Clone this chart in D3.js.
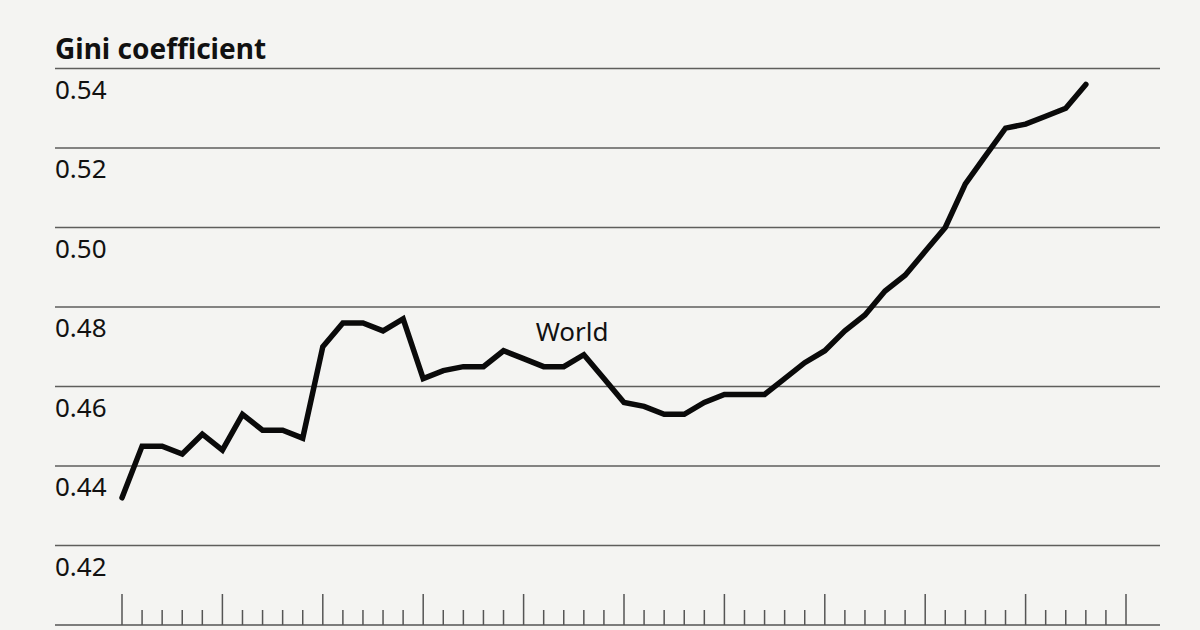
<!DOCTYPE html>
<html>
<head>
<meta charset="utf-8">
<script src="https://cdn.jsdelivr.net/npm/d3@7"></script>
<style>
    html, body { margin: 0; padding: 0; background: #f4f4f2; }
    svg { display: block; }
    .title { font-family: "Noto Sans", sans-serif; font-weight: 700; font-size: 28px; fill: #111; }
    .ylabel { font-family: "Noto Sans", sans-serif; font-size: 26px; fill: #111; }
    .annot { font-family: "Noto Sans", sans-serif; font-size: 26px; fill: #111; }
</style>
</head>
<body>
<svg id="graph"></svg>
<script>
// Gini coefficient, one value per year (index 0 = first year on the axis)
const years = d3.range( 0, 49 );
const gini = [
    0.432, 0.445, 0.445, 0.443, 0.448, 0.444, 0.453, 0.449, 0.449, 0.447,
    0.470, 0.476, 0.476, 0.474, 0.477, 0.462, 0.464, 0.465, 0.465, 0.469,
    0.467, 0.465, 0.465, 0.468, 0.462, 0.456, 0.455, 0.453, 0.453, 0.456,
    0.458, 0.458, 0.458, 0.462, 0.466, 0.469, 0.474, 0.478, 0.484, 0.488,
    0.494, 0.500, 0.511, 0.518, 0.525, 0.526, 0.528, 0.530, 0.536
];
const yTicks = [ 0.42, 0.44, 0.46, 0.48, 0.50, 0.52, 0.54 ];
const yTickLabels = [ "0.42", "0.44", "0.46", "0.48", "0.50", "0.52", "0.54" ];
const xMajorTicks = d3.range( 0, 51, 5 );
const xMinorTicks = d3.range( 0, 51 ).filter( function ( d ) { return d % 5 !== 0; } );
const titleText = "Gini coefficient";
const seriesLabel = { text: "World", x: 20.6, y: 0.4714 };

var svgWidth = 1200,
    svgHeight = 630,
    gridLeft = 55,
    gridRight = 1160,
    baselineY = 625;

var svg = d3.select( "svg#graph" )
    .attr( "width", svgWidth )
    .attr( "height", svgHeight );

var x = d3.scaleLinear().domain( [ 0, 50 ] ).range( [ 122, 1126 ] );
var y = d3.scaleLinear().domain( [ 0.42, 0.54 ] ).range( [ 545.5, 68.5 ] );

// title
svg.append( "text" )
    .classed( "title", true )
    .attr( "x", gridLeft )
    .attr( "y", 59 )
    .text( titleText );

// horizontal gridlines with labels sitting just under them
var grid = svg.append( "g" ).classed( "grid", true );

grid.selectAll( "line" )
    .data( yTicks )
    .enter()
    .append( "line" )
    .attr( "x1", gridLeft )
    .attr( "x2", gridRight )
    .attr( "y1", function ( d ) { return y( d ); } )
    .attr( "y2", function ( d ) { return y( d ); } )
    .style( "stroke", "#5e5e5c" )
    .style( "stroke-width", 1.7 );

grid.selectAll( "text" )
    .data( yTicks )
    .enter()
    .append( "text" )
    .classed( "ylabel", true )
    .attr( "x", gridLeft )
    .attr( "y", function ( d ) { return y( d ) + 30; } )
    .text( function ( d, i ) { return yTickLabels[ i ]; } );

// bottom axis: baseline with long and short ticks
var xAxis = svg.append( "g" )
    .classed( "x-axis", true )
    .attr( "transform", "translate(0," + baselineY + ")" );

xAxis.append( "line" )
    .attr( "x1", gridLeft )
    .attr( "x2", gridRight )
    .style( "stroke", "#555" )
    .style( "stroke-width", 1.7 );

xAxis.selectAll( ".major" )
    .data( xMajorTicks )
    .enter()
    .append( "line" )
    .classed( "major", true )
    .attr( "x1", function ( d ) { return x( d ); } )
    .attr( "x2", function ( d ) { return x( d ); } )
    .attr( "y1", 0 )
    .attr( "y2", -31 )
    .style( "stroke", "#555" )
    .style( "stroke-width", 1.5 );

xAxis.selectAll( ".minor" )
    .data( xMinorTicks )
    .enter()
    .append( "line" )
    .classed( "minor", true )
    .attr( "x1", function ( d ) { return x( d ); } )
    .attr( "x2", function ( d ) { return x( d ); } )
    .attr( "y1", 0 )
    .attr( "y2", -15 )
    .style( "stroke", "#555" )
    .style( "stroke-width", 1.5 );

// the series
var line = d3.line()
    .x( function ( d, i ) { return x( years[ i ] ); } )
    .y( function ( d ) { return y( d ); } );

svg.append( "path" )
    .datum( gini )
    .attr( "d", line )
    .style( "fill", "none" )
    .style( "stroke", "#0a0a0a" )
    .style( "stroke-width", 5.5 )
    .style( "stroke-linejoin", "miter" )
    .style( "stroke-miterlimit", 3 )
    .style( "stroke-linecap", "round" );

svg.append( "text" )
    .classed( "annot", true )
    .attr( "x", x( seriesLabel.x ) )
    .attr( "y", y( seriesLabel.y ) )
    .text( seriesLabel.text );
</script>
</body>
</html>
